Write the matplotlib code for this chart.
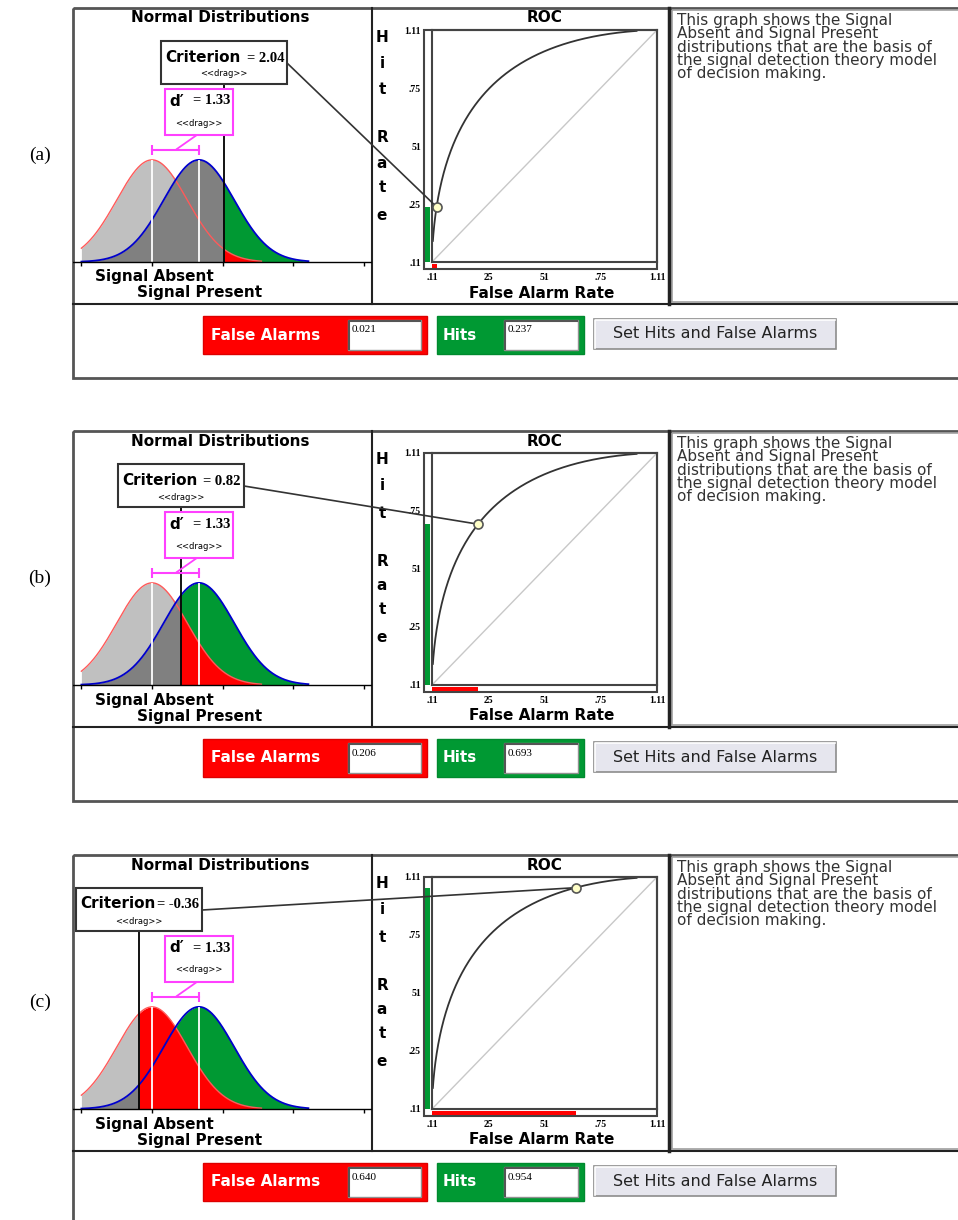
import math
import matplotlib.pyplot as plt
import numpy as np
from matplotlib.patches import Rectangle, ConnectionPatch

W, H = 958, 1220

# one screen per row: criterion, d', and the rates shown in the boxes
panel_labels = ['(a)', '(b)', '(c)']
criteria = [2.04, 0.82, -0.36]
criterion_text = ['2.04', '0.82', '-0.36']
dprimes = [1.33, 1.33, 1.33]
dprime_text = ['1.33', '1.33', '1.33']
false_alarms = [0.021, 0.206, 0.640]
hits = [0.237, 0.693, 0.954]
fa_text = ['0.021', '0.206', '0.640']
hit_text = ['0.237', '0.693', '0.954']

dist_ticks = [-2, 0, 2, 4, 6]
roc_ticks = [0, 0.25, 0.5, 0.75, 1.0]
roc_xticklabels = ['.11', '25', '51', '.75', '1.11']
roc_yticklabels = ['.11', '.25', '51', '.75', '1.11']
hit_rate_letters = ['H', 'i', 't', 'R', 'a', 't', 'e']
blurb = ('This graph shows the Signal\nAbsent and Signal Present\n'
         'distributions that are the basis of\nthe signal detection theory model\n'
         'of decision making.')

# layout (pixels)
tops = [8, 431, 855]
LEFT, DIST_R, ROC_R, RIGHT = 73, 372, 669, 962
GRAPH_H, PANEL_H = 296, 370
Z0_PX, PX_PER_Z = 152, 35.3      # distribution x scale
BASE_PX, PX_PER_D = 254, 256     # distribution y scale (relative to panel top)
ROC_X0, ROC_X1, ROC_Y0, ROC_Y1 = 432, 657, 22, 254

RED = '#ff0000'
GREEN = '#009933'
MAGENTA = '#ff40ff'
SANS = 'DejaVu Sans'
SERIF = 'Liberation Serif'


def rect(x0, y0, x1, y1):
    return [x0 / W, 1 - y1 / H, (x1 - x0) / W, (y1 - y0) / H]


def zx(px):
    return (px - Z0_PX) / PX_PER_Z


def yd(rel):
    return (BASE_PX - rel) / PX_PER_D


def pdf(x, mu):
    return np.exp(-0.5 * (x - mu) ** 2) / math.sqrt(2 * math.pi)


phi = np.vectorize(lambda v: 0.5 * (1 + math.erf(v / math.sqrt(2))))


fig = plt.figure(figsize=(W / 100, H / 100), dpi=100)
ui = fig.add_axes([0, 0, 1, 1])
ui.set_xlim(0, W)
ui.set_ylim(H, 0)
ui.axis('off')

for i, top in enumerate(tops):
    c = criteria[i]
    dp = dprimes[i]
    fa = false_alarms[i]
    ht = hits[i]

    # ---- window chrome ----
    ui.add_patch(Rectangle((LEFT, top), RIGHT - LEFT, PANEL_H, fill=False,
                           ec='#555555', lw=2))
    ui.plot([LEFT, RIGHT], [top + GRAPH_H] * 2, color='#222222', lw=1.5)
    ui.plot([DIST_R] * 2, [top, top + GRAPH_H], color='#222222', lw=1.5)
    ui.plot([ROC_R + 0.5] * 2, [top, top + GRAPH_H], color='#222222', lw=2.5)
    ui.add_patch(Rectangle((ROC_R + 3, top + 2), RIGHT - ROC_R, GRAPH_H - 4,
                           fill=False, ec='#a0a0a0', lw=1.2))
    ui.text(ROC_R + 8, top + 5, blurb, ha='left', va='top', fontsize=11,
            family=SANS, color='#333333', linespacing=0.86)
    ui.text(40, top + 147, panel_labels[i], ha='center', va='center',
            fontsize=14, family=SERIF)

    # control bar
    ui.add_patch(Rectangle((203, top + 308), 224, 38, fc=RED, ec='#dd0000', lw=1))
    ui.text(211, top + 327, 'False Alarms', ha='left', va='center', color='white',
            fontsize=11, fontweight='bold', family=SANS)
    ui.add_patch(Rectangle((348, top + 312), 73, 30, fc='white', ec='#909090', lw=1))
    ui.plot([349, 349, 420], [top + 341, top + 313, top + 313], color='#555555', lw=1.5)
    ui.text(352, top + 322, fa_text[i], ha='left', va='center', fontsize=8,
            family=SERIF)

    ui.add_patch(Rectangle((437, top + 308), 147, 38, fc=GREEN, ec='#008a2e', lw=1))
    ui.text(443, top + 327, 'Hits', ha='left', va='center', color='white',
            fontsize=11, fontweight='bold', family=SANS)
    ui.add_patch(Rectangle((504, top + 312), 74, 30, fc='white', ec='#909090', lw=1))
    ui.plot([505, 505, 577], [top + 341, top + 313, top + 313], color='#555555', lw=1.5)
    ui.text(508, top + 322, hit_text[i], ha='left', va='center', fontsize=8,
            family=SERIF)

    ui.add_patch(Rectangle((594, top + 311), 242, 30, fc='#e6e6ee', ec='#8c8c8c', lw=1.2))
    ui.plot([595, 595, 835], [top + 340, top + 312, top + 312], color='white', lw=1.2)
    ui.text(715, top + 326, 'Set Hits and False Alarms', ha='center', va='center',
            fontsize=11.5, family=SANS, color='#222222')

    # ---- normal distributions ----
    ax = fig.add_axes(rect(LEFT, top, DIST_R, top + GRAPH_H))
    ax.set_xlim(zx(LEFT), zx(DIST_R))
    ax.set_ylim(yd(GRAPH_H), yd(0))
    ax.axis('off')

    sa_end = 3.1
    sp_end = dp + 3.1
    xa = np.linspace(-2, sa_end, 300)
    xp = np.linspace(-2, sp_end, 300)
    if c > -2:
        xl = np.linspace(-2, min(c, sa_end), 200)
        ax.fill_between(xl, pdf(xl, 0), color='#c0c0c0', lw=0)
        xl = np.linspace(-2, min(c, sp_end), 200)
        ax.fill_between(xl, pdf(xl, dp), color='#808080', lw=0)
    if c < sp_end:
        xr = np.linspace(max(c, -2), sp_end, 200)
        ax.fill_between(xr, pdf(xr, dp), color=GREEN, lw=0)
    if c < sa_end:
        xr = np.linspace(max(c, -2), sa_end, 200)
        ax.fill_between(xr, pdf(xr, 0), color=RED, lw=0)
    ax.plot(xa, pdf(xa, 0), color='#ff5a5a', lw=1)
    ax.plot(xp, pdf(xp, dp), color='#0000cc', lw=1.3)
    ax.vlines([0, dp], 0, pdf(0, 0), color='white', lw=1.3)

    # baseline and ticks
    ax.plot([zx(LEFT), zx(DIST_R)], [0, 0], color='black', lw=1)
    ax.vlines(dist_ticks, -0.016, 0, color='black', lw=1)

    # criterion line and box
    bw = 126 / PX_PER_Z
    bl = max(c - bw / 2, zx(LEFT))
    ax.vlines(c, 0, yd(76), color='black', lw=1.3)
    ax.add_patch(Rectangle((bl, yd(76)), bw, yd(33) - yd(76), fc='white',
                           ec='#333333', lw=1.5, zorder=4))
    ax.text(bl + 4 / PX_PER_Z, yd(49), 'Criterion', ha='left', va='center',
            fontsize=11, fontweight='bold', family=SANS, zorder=5)
    ax.text(bl + bw - 3 / PX_PER_Z, yd(50), '= ' + criterion_text[i], ha='right',
            va='center', fontsize=10.5, fontweight='bold', family=SERIF, zorder=5)
    ax.text(bl + bw / 2, yd(66), '<<drag>>', ha='center', va='center',
            fontsize=6, family=SANS, zorder=5)

    # d' box and bracket
    dw = 68 / PX_PER_Z
    dl = dp - dw / 2
    ax.add_patch(Rectangle((dl, yd(127)), dw, yd(81) - yd(127), fc='white',
                           ec=MAGENTA, lw=1.5, zorder=4))
    ax.text(dl + 4 / PX_PER_Z, yd(93), "d\u2032", ha='left', va='center',
            fontsize=11, fontweight='bold', family=SANS, zorder=5)
    ax.text(dl + dw - 3 / PX_PER_Z, yd(93), '= ' + dprime_text[i], ha='right',
            va='center', fontsize=10.5, fontweight='bold', family=SERIF, zorder=5)
    ax.text(dp, yd(115), '<<drag>>', ha='center', va='center', fontsize=6,
            family=SANS, zorder=5)
    ax.plot([0, dp], [yd(142)] * 2, color=MAGENTA, lw=1.5)
    ax.vlines([0, dp], yd(147), yd(137), color=MAGENTA, lw=1.5)
    ax.plot([dp / 2 + 0.04, dp - 0.06], [yd(141), yd(127)], color=MAGENTA, lw=1.3)

    ax.text(zx(220), yd(10), 'Normal Distributions', ha='center', va='center',
            fontsize=11, fontweight='bold', family=SANS)
    ax.text(zx(95), yd(269), 'Signal Absent', ha='left', va='center',
            fontsize=11, fontweight='bold', family=SANS)
    ax.text(zx(137), yd(285), 'Signal Present', ha='left', va='center',
            fontsize=11, fontweight='bold', family=SANS)

    # ---- ROC ----
    roc = fig.add_axes(rect(ROC_X0, top + ROC_Y0, ROC_X1, top + ROC_Y1))
    roc.set_xlim(0, 1)
    roc.set_ylim(0, 1)
    roc.set_facecolor('none')
    for sp in roc.spines.values():
        sp.set_color('#444444')
        sp.set_linewidth(1.5)
    bx = 8 / (ROC_X1 - ROC_X0)
    by = 7 / (ROC_Y1 - ROC_Y0)
    roc.add_patch(Rectangle((-bx, -by), 1 + bx, 1 + by, fill=False, ec='#444444',
                            lw=1.5, clip_on=False))
    roc.bar(-bx / 2 - 0.002, ht, width=bx - 0.01, bottom=0, color=GREEN,
            clip_on=False, zorder=3)
    roc.barh(-by / 2 - 0.002, fa, height=by - 0.01, left=0, color=RED,
             clip_on=False, zorder=3)
    roc.plot([0, 1], [0, 1], color='#c8c8c8', lw=1)
    cg = np.linspace(dp / 2 - 2, dp / 2 + 2, 300)
    roc.plot(1 - phi(cg), 1 - phi(cg - dp), color='#333333', lw=1.3)
    roc.plot(fa, ht, 'o', ms=6.5, mfc='#ffffc8', mec='#555555', mew=1.2,
             clip_on=False, zorder=6)

    roc.set_xticks(roc_ticks, roc_xticklabels)
    roc.set_yticks(roc_ticks, roc_yticklabels)
    roc.tick_params(length=0, labelsize=7)
    roc.tick_params(axis='x', pad=8)
    roc.tick_params(axis='y', pad=8)
    for lab in roc.get_xticklabels() + roc.get_yticklabels():
        lab.set_family(SERIF)
        lab.set_fontweight('bold')

    ph = ROC_Y1 - ROC_Y0
    pw = ROC_X1 - ROC_X0
    roc.text(0.5, (ROC_Y1 - 10) / ph, 'ROC', transform=roc.transAxes,
             ha='center', va='center', fontsize=11, fontweight='bold', family=SANS)
    roc.text((542 - ROC_X0) / pw, (ROC_Y1 - 285) / ph, 'False Alarm Rate',
             transform=roc.transAxes, ha='center', va='center', fontsize=11,
             fontweight='bold', family=SANS)
    for letter, rel in zip(hit_rate_letters, [29, 55, 82, 130, 155, 179, 207]):
        roc.text((382 - ROC_X0) / pw, (ROC_Y1 - rel) / ph, letter,
                 transform=roc.transAxes, ha='center', va='center', fontsize=11,
                 fontweight='bold', family=SANS)

    # line from the criterion box to the operating point
    con = ConnectionPatch(xyA=(bl + bw, yd(55)), coordsA=ax.transData,
                          xyB=(fa, ht), coordsB=roc.transData,
                          color='#333333', lw=1.2, zorder=5)
    con.set_clip_on(False)
    roc.add_artist(con)

fig.savefig('out.png', dpi=100)
